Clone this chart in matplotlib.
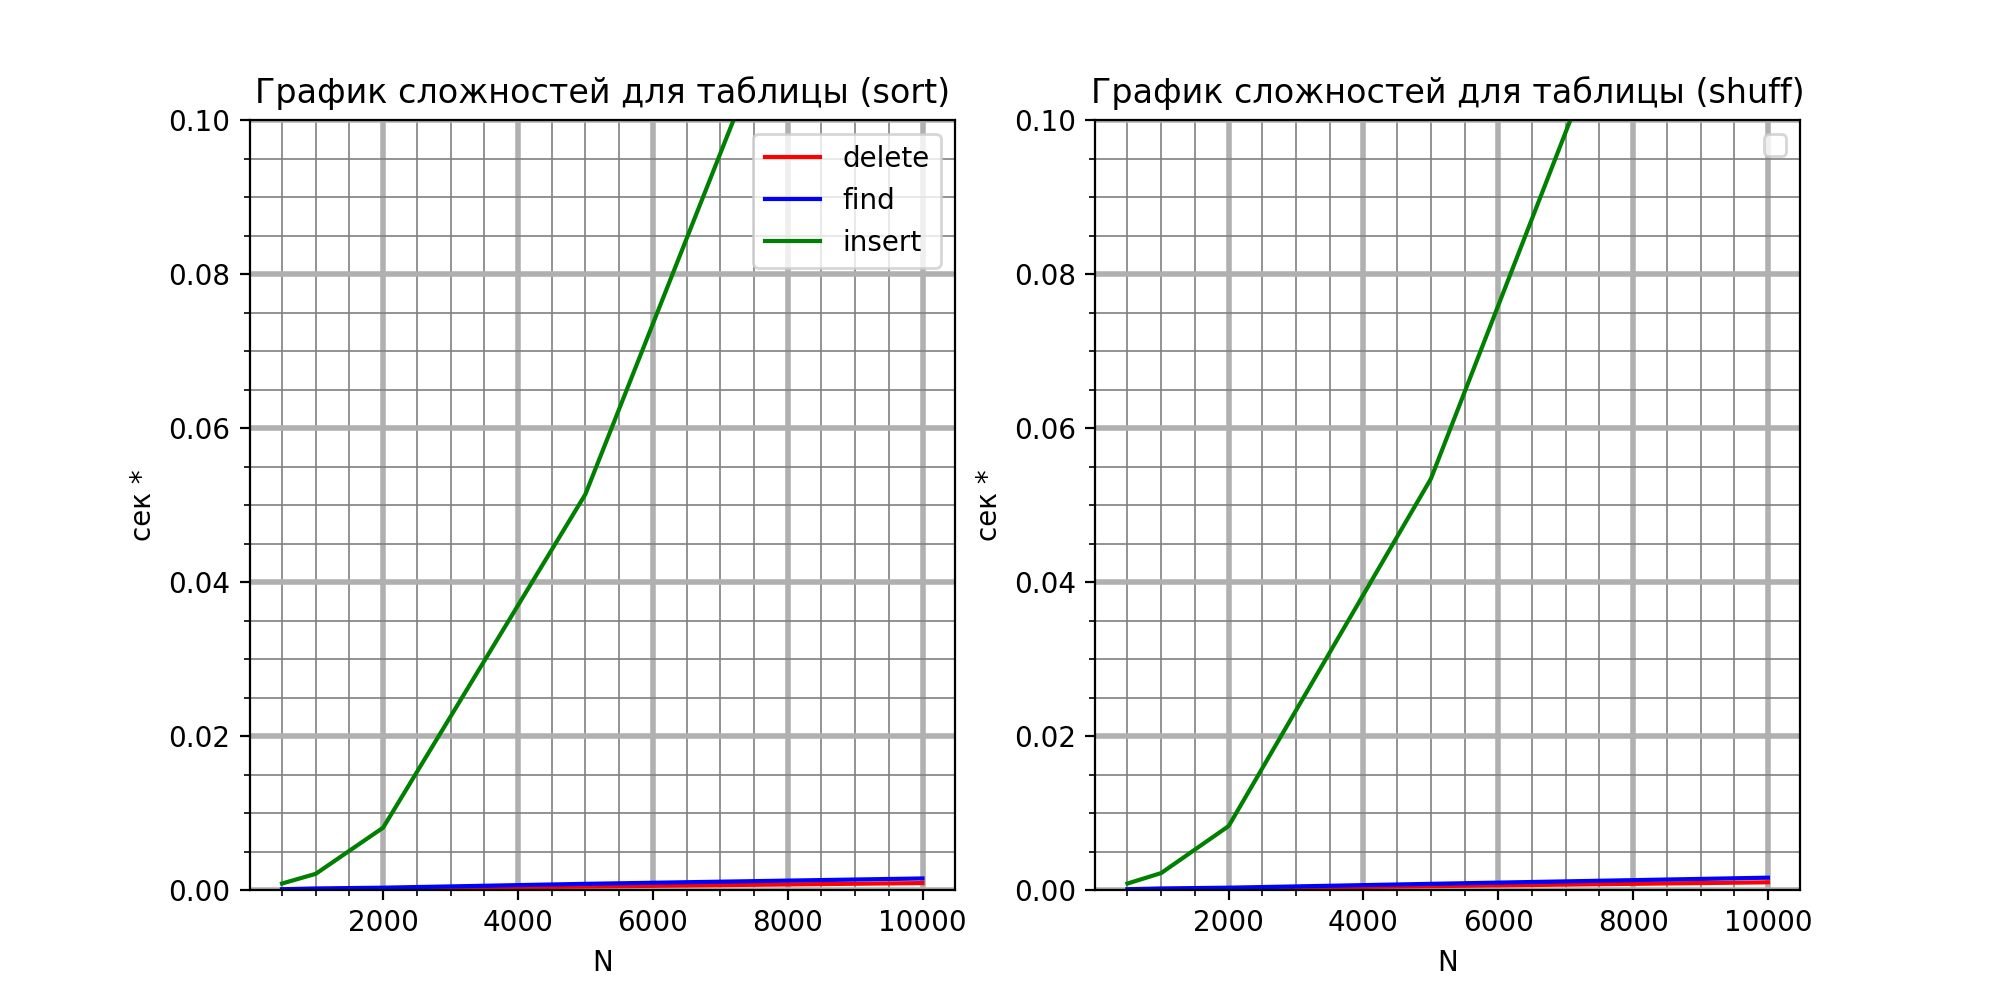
import matplotlib
matplotlib.use("Agg")
import matplotlib.pyplot as plt

N = [500, 1000, 2000, 5000, 10000]

sort_delete = [0.00005, 0.0001, 0.0002, 0.00045, 0.0009]
sort_find = [0.0001, 0.0002, 0.0003, 0.0008, 0.0015]
sort_insert = [0.00084, 0.0021, 0.0081, 0.0514, 0.162]

shuff_delete = [0.00005, 0.0001, 0.0002, 0.0005, 0.001]
shuff_find = [0.0001, 0.0002, 0.0003, 0.0008, 0.0016]
shuff_insert = [0.00084, 0.0022, 0.0083, 0.0534, 0.166]

titles = ["График сложностей для таблицы (sort)", "График сложностей для таблицы (shuff)"]

fig, axes = plt.subplots(1, 2, figsize=(10, 5), dpi=200)

def style(ax, title):
    ax.set_title(title)
    ax.set_xlabel("N")
    ax.set_ylabel("сек *")
    ax.set_ylim(0, 0.1)
    ax.minorticks_on()
    ax.grid(which="major", color="#b0b0b0", linewidth=2)
    ax.grid(which="minor", color="gray", linewidth=0.6)

ax = axes[0]
ax.plot(N, sort_delete, color="red", label="delete")
ax.plot(N, sort_find, color="blue", label="find")
ax.plot(N, sort_insert, color="green", label="insert")
style(ax, titles[0])
ax.legend(loc="upper right")

ax = axes[1]
ax.plot(N, shuff_delete, color="red")
ax.plot(N, shuff_find, color="blue")
ax.plot(N, shuff_insert, color="green")
style(ax, titles[1])
ax.legend(loc="upper right")

fig.savefig("out.png")
